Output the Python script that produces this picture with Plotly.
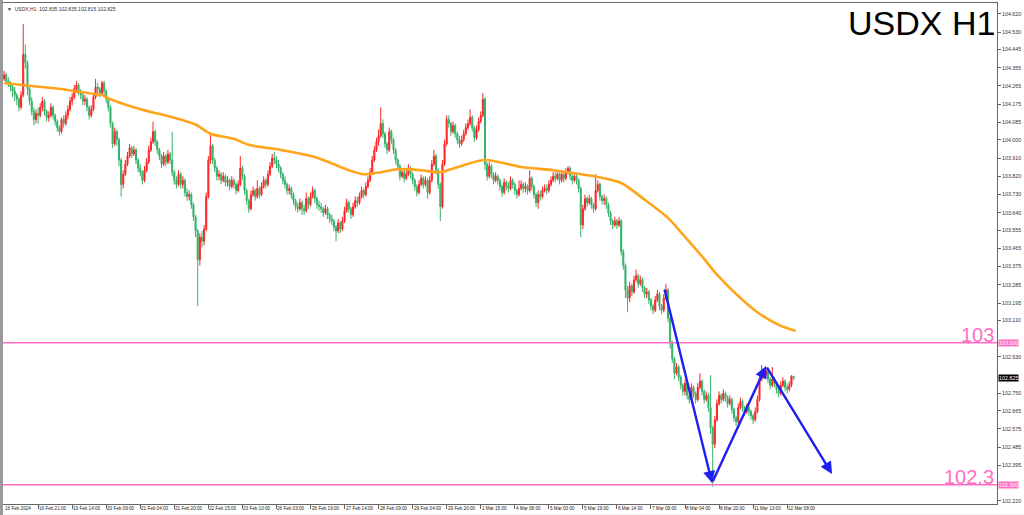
import plotly.graph_objects as go

# ---------------- data ----------------
first_open = 104.30

closes = [
    104.32, 104.29, 104.28, 104.26, 104.24, 104.22, 104.20, 104.16, 104.22, 104.42, 104.38, 104.25, 104.19, 104.14, 104.10, 104.13,
    104.12, 104.16, 104.19, 104.14, 104.11, 104.12, 104.16, 104.12, 104.09, 104.06, 104.04, 104.10, 104.08, 104.12, 104.15, 104.19,
    104.21, 104.25, 104.27, 104.24, 104.22, 104.19, 104.20, 104.16, 104.12, 104.15, 104.21, 104.26, 104.25, 104.23, 104.28, 104.24,
    104.20, 104.16, 104.08, 103.98, 104.04, 104.00, 103.90, 103.78, 103.83, 103.88, 103.92, 103.96, 103.93, 103.95, 103.90, 103.86,
    103.84, 103.80, 103.85, 103.89, 103.95, 103.99, 104.04, 103.99, 103.95, 103.92, 103.88, 103.92, 103.89, 103.93, 103.90, 103.84,
    103.80, 103.78, 103.83, 103.78, 103.80, 103.74, 103.72, 103.73, 103.68, 103.62, 103.55, 103.41, 103.52, 103.50, 103.56, 103.72,
    103.90, 103.97, 103.90, 103.86, 103.82, 103.83, 103.80, 103.82, 103.79, 103.80, 103.77, 103.80, 103.78, 103.75, 103.78, 103.86,
    103.82, 103.75, 103.70, 103.66, 103.73, 103.75, 103.72, 103.76, 103.73, 103.77, 103.80, 103.78, 103.83, 103.87, 103.91, 103.90,
    103.88, 103.86, 103.83, 103.80, 103.78, 103.75, 103.76, 103.73, 103.70, 103.67, 103.66, 103.69, 103.66, 103.65, 103.71, 103.68,
    103.72, 103.75, 103.71, 103.68, 103.67, 103.66, 103.64, 103.66, 103.63, 103.61, 103.60, 103.57, 103.55, 103.59, 103.56, 103.60,
    103.65, 103.69, 103.66, 103.63, 103.67, 103.70, 103.69, 103.72, 103.75, 103.73, 103.77, 103.80, 103.84, 103.90, 103.95, 103.99,
    104.02, 104.08, 104.03, 103.98, 103.95, 104.04, 104.00, 103.95, 103.90, 103.87, 103.82, 103.84, 103.81, 103.83, 103.86, 103.83,
    103.80, 103.77, 103.74, 103.78, 103.81, 103.78, 103.80, 103.74, 103.80, 103.88, 103.92, 103.85, 103.78, 103.67, 103.88, 103.98,
    104.10, 104.08, 104.04, 104.07, 104.03, 104.00, 103.98, 104.00, 104.03, 104.06, 104.08, 104.11, 104.06, 104.01, 104.05, 104.09,
    104.12, 104.20, 103.88, 103.82, 103.87, 103.83, 103.80, 103.82, 103.80, 103.77, 103.74, 103.79, 103.77, 103.76, 103.80, 103.78,
    103.75, 103.73, 103.76, 103.78, 103.76, 103.77, 103.75, 103.81, 103.77, 103.73, 103.69, 103.73, 103.72, 103.75, 103.76, 103.75,
    103.78, 103.80, 103.82, 103.81, 103.83, 103.80, 103.83, 103.81, 103.84, 103.86, 103.82, 103.80, 103.82, 103.80, 103.76, 103.58,
    103.66, 103.71, 103.69, 103.71, 103.68, 103.66, 103.75, 103.78, 103.72, 103.70, 103.71, 103.68, 103.64, 103.60, 103.58, 103.60,
    103.58, 103.60, 103.45, 103.38, 103.26, 103.22, 103.28, 103.25, 103.31, 103.33, 103.29, 103.31, 103.27, 103.24, 103.25, 103.21,
    103.18, 103.16, 103.21, 103.24, 103.18, 103.16, 103.22, 103.26, 103.12, 103.00, 102.92, 102.85, 102.88, 102.83, 102.79, 102.76,
    102.80, 102.74, 102.72, 102.78, 102.75, 102.72, 102.78, 102.81, 102.76, 102.72, 102.74, 102.68, 102.58, 102.50, 102.62, 102.70,
    102.74, 102.72, 102.75, 102.73, 102.70, 102.72, 102.67, 102.63, 102.61, 102.68, 102.71, 102.68, 102.66, 102.68, 102.66, 102.64,
    102.62, 102.66, 102.72, 102.82, 102.86, 102.84, 102.86, 102.82, 102.79, 102.82, 102.80, 102.77, 102.75, 102.79, 102.81, 102.78,
    102.77, 102.79, 102.835, 102.825,
]

highs = [
    104.34, 104.33, 104.31, 104.29, 104.27, 104.26, 104.23, 104.21, 104.24, 104.57, 104.47, 104.39, 104.27, 104.21, 104.16, 104.15,
    104.16, 104.18, 104.21, 104.20, 104.15, 104.14, 104.18, 104.17, 104.13, 104.10, 104.07, 104.11, 104.12, 104.14, 104.17, 104.21,
    104.23, 104.27, 104.29, 104.28, 104.25, 104.23, 104.22, 104.21, 104.17, 104.17, 104.23, 104.30, 104.28, 104.26, 104.29, 104.29,
    104.25, 104.21, 104.17, 104.09, 104.06, 104.05, 104.01, 103.91, 103.85, 103.90, 103.94, 103.98, 103.97, 103.97, 103.96, 103.91,
    103.88, 103.85, 103.87, 103.91, 103.97, 104.01, 104.09, 104.05, 104.00, 103.96, 103.93, 103.94, 103.93, 103.95, 103.94, 104.04,
    103.85, 103.82, 103.85, 103.84, 103.82, 103.81, 103.76, 103.75, 103.74, 103.69, 103.63, 103.56, 103.54, 103.55, 103.58, 103.74,
    103.92, 104.03, 103.98, 103.91, 103.87, 103.85, 103.84, 103.84, 103.83, 103.82, 103.81, 103.82, 103.81, 103.79, 103.80, 103.92,
    103.87, 103.83, 103.76, 103.71, 103.75, 103.77, 103.76, 103.80, 103.77, 103.79, 103.82, 103.81, 103.85, 103.89, 103.93, 103.94,
    103.92, 103.90, 103.87, 103.84, 103.82, 103.79, 103.78, 103.77, 103.74, 103.71, 103.69, 103.71, 103.70, 103.68, 103.74, 103.72,
    103.74, 103.77, 103.76, 103.72, 103.70, 103.69, 103.67, 103.68, 103.67, 103.64, 103.63, 103.61, 103.58, 103.61, 103.60, 103.62,
    103.67, 103.71, 103.70, 103.67, 103.69, 103.72, 103.72, 103.74, 103.77, 103.76, 103.79, 103.82, 103.86, 103.92, 103.97, 104.01,
    104.05, 104.16, 104.10, 104.04, 103.99, 104.06, 104.05, 104.01, 103.96, 103.91, 103.88, 103.86, 103.85, 103.85, 103.88, 103.87,
    103.84, 103.81, 103.78, 103.80, 103.83, 103.82, 103.82, 103.81, 103.82, 103.90, 103.95, 103.93, 103.86, 103.79, 103.90, 104.00,
    104.12, 104.12, 104.09, 104.09, 104.08, 104.04, 104.02, 104.02, 104.05, 104.08, 104.10, 104.15, 104.12, 104.07, 104.07, 104.11,
    104.14, 104.23, 104.21, 103.89, 103.89, 103.88, 103.84, 103.84, 103.83, 103.81, 103.78, 103.81, 103.80, 103.79, 103.82, 103.81,
    103.79, 103.76, 103.80, 103.80, 103.79, 103.79, 103.78, 103.85, 103.82, 103.78, 103.74, 103.75, 103.75, 103.77, 103.78, 103.78,
    103.80, 103.82, 103.84, 103.84, 103.85, 103.84, 103.85, 103.84, 103.86, 103.87, 103.87, 103.83, 103.84, 103.83, 103.81, 103.77,
    103.68, 103.73, 103.72, 103.73, 103.72, 103.69, 103.83, 103.80, 103.79, 103.73, 103.73, 103.72, 103.69, 103.65, 103.61, 103.62,
    103.61, 103.62, 103.61, 103.46, 103.39, 103.28, 103.30, 103.29, 103.33, 103.36, 103.34, 103.33, 103.32, 103.28, 103.27, 103.26,
    103.22, 103.19, 103.23, 103.26, 103.25, 103.19, 103.24, 103.29, 103.27, 103.13, 103.01, 102.93, 102.90, 102.89, 102.84, 102.80,
    102.82, 102.81, 102.75, 102.80, 102.79, 102.76, 102.80, 102.85, 102.82, 102.77, 102.76, 102.75, 102.84, 102.59, 102.64, 102.72,
    102.76, 102.75, 102.77, 102.76, 102.74, 102.74, 102.73, 102.68, 102.64, 102.70, 102.73, 102.72, 102.69, 102.70, 102.69, 102.67,
    102.65, 102.68, 102.74, 102.84, 102.89, 102.87, 102.88, 102.87, 102.83, 102.88, 102.83, 102.81, 102.78, 102.81, 102.83, 102.82,
    102.80, 102.81, 102.84, 102.835,
]

lows = [
    104.29, 104.28, 104.26, 104.24, 104.21, 104.19, 104.17, 104.14, 104.15, 104.21, 104.35, 104.22, 104.17, 104.12, 104.07, 104.08,
    104.08, 104.11, 104.14, 104.12, 104.09, 104.09, 104.11, 104.10, 104.07, 104.04, 104.02, 104.03, 104.06, 104.07, 104.10, 104.14,
    104.17, 104.20, 104.23, 104.22, 104.20, 104.17, 104.17, 104.14, 104.10, 104.11, 104.14, 104.20, 104.23, 104.21, 104.22, 104.22,
    104.18, 104.14, 104.06, 103.96, 103.97, 103.97, 103.87, 103.72, 103.76, 103.82, 103.87, 103.91, 103.91, 103.92, 103.88, 103.84,
    103.82, 103.78, 103.79, 103.84, 103.88, 103.94, 103.98, 103.97, 103.93, 103.90, 103.86, 103.87, 103.87, 103.88, 103.88, 103.82,
    103.78, 103.76, 103.77, 103.76, 103.76, 103.72, 103.70, 103.70, 103.66, 103.60, 103.52, 103.18, 103.38, 103.47, 103.48, 103.55,
    103.71, 103.88, 103.88, 103.84, 103.80, 103.80, 103.78, 103.79, 103.77, 103.77, 103.75, 103.76, 103.76, 103.73, 103.74, 103.77,
    103.80, 103.73, 103.68, 103.64, 103.65, 103.72, 103.70, 103.71, 103.71, 103.72, 103.76, 103.76, 103.77, 103.82, 103.86, 103.88,
    103.86, 103.84, 103.81, 103.78, 103.76, 103.73, 103.73, 103.71, 103.68, 103.65, 103.64, 103.65, 103.63, 103.63, 103.64, 103.66,
    103.67, 103.71, 103.69, 103.66, 103.65, 103.64, 103.62, 103.63, 103.61, 103.59, 103.58, 103.55, 103.50, 103.54, 103.54, 103.55,
    103.59, 103.64, 103.64, 103.61, 103.62, 103.66, 103.67, 103.68, 103.71, 103.71, 103.72, 103.76, 103.79, 103.83, 103.89, 103.94,
    103.97, 104.01, 104.01, 103.96, 103.93, 103.94, 103.98, 103.93, 103.88, 103.85, 103.80, 103.81, 103.79, 103.80, 103.82, 103.81,
    103.78, 103.75, 103.72, 103.73, 103.77, 103.76, 103.77, 103.71, 103.73, 103.79, 103.87, 103.83, 103.76, 103.60, 103.66, 103.87,
    103.97, 104.06, 104.02, 104.03, 104.01, 103.98, 103.96, 103.97, 103.99, 104.02, 104.05, 104.07, 104.04, 103.99, 104.00, 104.04,
    104.08, 104.11, 103.85, 103.80, 103.81, 103.81, 103.78, 103.79, 103.78, 103.75, 103.72, 103.73, 103.75, 103.74, 103.75, 103.76,
    103.73, 103.71, 103.72, 103.75, 103.74, 103.74, 103.73, 103.74, 103.75, 103.71, 103.67, 103.66, 103.70, 103.71, 103.74, 103.73,
    103.74, 103.77, 103.79, 103.79, 103.80, 103.78, 103.79, 103.79, 103.80, 103.83, 103.80, 103.78, 103.79, 103.78, 103.74, 103.52,
    103.56, 103.65, 103.67, 103.68, 103.66, 103.64, 103.65, 103.74, 103.70, 103.68, 103.68, 103.66, 103.62, 103.58, 103.56, 103.57,
    103.56, 103.57, 103.43, 103.36, 103.22, 103.15, 103.20, 103.23, 103.24, 103.30, 103.27, 103.28, 103.25, 103.22, 103.22, 103.19,
    103.16, 103.14, 103.15, 103.20, 103.16, 103.14, 103.15, 103.21, 103.10, 102.97, 102.90, 102.82, 102.84, 102.81, 102.77, 102.74,
    102.74, 102.72, 102.70, 102.71, 102.73, 102.70, 102.71, 102.77, 102.74, 102.70, 102.71, 102.66, 102.55, 102.29, 102.48, 102.61,
    102.69, 102.70, 102.71, 102.71, 102.68, 102.69, 102.65, 102.61, 102.59, 102.60, 102.67, 102.66, 102.64, 102.65, 102.64, 102.62,
    102.60, 102.61, 102.65, 102.71, 102.81, 102.82, 102.83, 102.80, 102.77, 102.78, 102.78, 102.75, 102.73, 102.74, 102.78, 102.76,
    102.75, 102.76, 102.78, 102.815,
]

# orange moving average, read at bar positions
ma_bar = [0, 13, 27, 36, 46, 50, 61, 69, 76, 83, 90, 97, 108, 115, 130, 146, 162, 169, 177, 185, 196, 205,
          216, 226, 243, 258, 271, 279, 290, 301, 312, 318, 328, 335, 345, 354, 364, 372]
ma_val = [104.28, 104.265, 104.25, 104.235, 104.22, 104.20, 104.16, 104.137, 104.12, 104.10, 104.075, 104.03,
          104.005, 103.975, 103.95, 103.915, 103.85, 103.83, 103.84, 103.855, 103.85, 103.84,
          103.875, 103.90, 103.866, 103.85, 103.83, 103.817, 103.787, 103.705, 103.615, 103.545, 103.425, 103.335,
          103.23, 103.15, 103.088, 103.058]

# x-axis time labels (one every 16 hourly bars)
time_labels = ["16 Feb 2024", "16 Feb 21:00", "19 Feb 14:00", "20 Feb 09:00", "21 Feb 04:00", "21 Feb 20:00",
               "22 Feb 15:00", "23 Feb 10:00", "26 Feb 03:00", "26 Feb 19:00", "27 Feb 14:00", "28 Feb 09:00",
               "29 Feb 04:00", "29 Feb 20:00", "1 Mar 15:00", "4 Mar 08:00", "5 Mar 03:00", "5 Mar 19:00",
               "6 Mar 14:00", "7 Mar 09:00", "8 Mar 04:00", "8 Mar 20:00", "11 Mar 13:00", "12 Mar 08:00"]
label_step = 16

# right price axis labels
price_ticks = [104.620, 104.530, 104.445, 104.355, 104.265, 104.175, 104.085, 104.000, 103.910, 103.820,
               103.730, 103.640, 103.555, 103.465, 103.375, 103.285, 103.195, 103.110, 102.930, 102.750,
               102.665, 102.575, 102.485, 102.395, 102.220]

# horizontal levels and their labels
levels = [103.0, 102.3]
level_labels = ["103", "102.3"]
last_price = 102.825

# drawn zig-zag projection (bar position, price)
zz_bar = [310.2, 332.7, 358.1, 389.1]
zz_price = [103.27, 102.308, 102.885, 102.353]

header = "\u25BC  USDX,H1  102.835 102.835 102.815 102.825"
title = "USDX H1"

# ---------------- figure ----------------
n = len(closes)
if not (len(highs) == n and len(lows) == n):
    raise ValueError(f"length mismatch {n} {len(highs)} {len(lows)}")
opens = [first_open] + closes[:-1]
bars = list(range(n))

RED = "#ff2424"
GREEN = "#34b26a"
PINK = "#ff6ec4"
BLUE = "#1f1ff0"
ORANGE = "#ffa41b"
FONT = "Liberation Sans"

fig = go.Figure()
fig.add_trace(go.Candlestick(
    x=bars, open=opens, high=highs, low=lows, close=closes,
    increasing=dict(line=dict(color=RED, width=1), fillcolor=RED),
    decreasing=dict(line=dict(color=GREEN, width=1), fillcolor=GREEN),
    hoverinfo="skip", showlegend=False,
))
fig.add_trace(go.Scatter(x=ma_bar, y=ma_val, mode="lines",
                         line=dict(color=ORANGE, width=2.6, shape="spline", smoothing=0.8),
                         hoverinfo="skip", showlegend=False))

annotations = []
# time labels
for i, lab in enumerate(time_labels):
    annotations.append(dict(x=i * label_step, xref="x", y=0, yref="paper", yanchor="top", xanchor="left",
                            text=lab, showarrow=False, xshift=0, yshift=-1, borderpad=0,
                            font=dict(size=4.6, color="#222", family=FONT)))
# level labels
for lv, lab in zip(levels, level_labels):
    annotations.append(dict(x=1, xref="paper", y=lv, yref="y", xanchor="right", yanchor="bottom",
                            text=lab, showarrow=False, xshift=-1, yshift=-5,
                            font=dict(size=20, color=PINK, family=FONT)))
    annotations.append(dict(x=1, xref="paper", y=lv, yref="y", xanchor="left", yanchor="middle",
                            text=f"{lv:.3f}", showarrow=False, xshift=1, bgcolor=PINK, borderpad=0,
                            font=dict(size=5.3, color="white", family=FONT)))
annotations.append(dict(x=1, xref="paper", y=last_price, yref="y", xanchor="left", yanchor="middle",
                        text=f"{last_price:.3f}", showarrow=False, xshift=1, bgcolor="#000000", borderpad=0,
                        font=dict(size=5.3, color="white", family=FONT)))
# zig-zag arrows
for k in range(len(zz_bar) - 1):
    annotations.append(dict(x=zz_bar[k + 1], y=zz_price[k + 1], xref="x", yref="y",
                            ax=zz_bar[k], ay=zz_price[k], axref="x", ayref="y",
                            text="", showarrow=True, arrowhead=2, arrowsize=1.0, arrowwidth=2.4,
                            arrowcolor=BLUE, standoff=0, startstandoff=0))
# header and title
annotations.append(dict(x=0, xref="paper", y=1, yref="paper", xanchor="left", yanchor="top",
                        text=header, showarrow=False, xshift=2, yshift=-1,
                        font=dict(size=5, color="#333", family=FONT)))
annotations.append(dict(x=1, xref="paper", y=1, yref="paper", xanchor="right", yanchor="top",
                        text=title, showarrow=False, xshift=0, yshift=1,
                        font=dict(size=34, color="black", family=FONT)))

fig.update_layout(
    width=1024, height=515,
    margin=dict(l=3, r=27, t=3, b=11),
    paper_bgcolor="white", plot_bgcolor="white",
    showlegend=False,
    annotations=annotations,
    xaxis=dict(range=[-0.5, 466.6], rangeslider=dict(visible=False), showgrid=False, zeroline=False,
               showline=True, linecolor="#666", linewidth=1, mirror=True,
               tickvals=[i * label_step for i in range(1, len(time_labels))],
               ticktext=[""] * (len(time_labels) - 1), ticks="outside", ticklen=4, tickcolor="#666",
               automargin=False, fixedrange=True),
    yaxis=dict(range=[102.205, 104.674], side="right", showgrid=False, zeroline=False,
               showline=True, linecolor="#666", linewidth=1, mirror=True,
               tickvals=price_ticks, ticktext=[f"{v:.3f}" for v in price_ticks],
               ticks="outside", ticklen=3, tickcolor="#666",
               tickfont=dict(size=5.3, color="#333", family=FONT), automargin=False, fixedrange=True),
    shapes=[
        dict(type="rect", xref="paper", yref="paper", x0=-0.0031, x1=0, y0=-0.03, y1=1.01,
             fillcolor="#9a9a9a", line=dict(width=0)),
        dict(type="rect", xref="paper", yref="paper", x0=-0.01, x1=1.03, y0=-0.03, y1=-0.021,
             fillcolor="#e8e8e8", line=dict(width=0), layer="below"),
    ],
)

for lv in levels:
    fig.add_hline(y=lv, line=dict(color=PINK, width=1.6))

fig.write_html("out.html", config={"displayModeBar": False},
               post_script="document.body.style.margin='0px';document.body.style.padding='0px';")
